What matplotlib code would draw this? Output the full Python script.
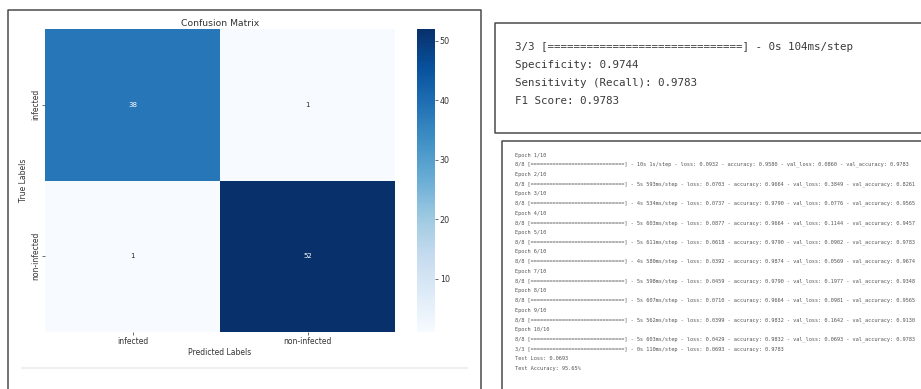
import numpy as np
import matplotlib
matplotlib.use("Agg")
import matplotlib.pyplot as plt
import seaborn as sns

W, H = 921, 389

# confusion matrix
class_names = ["infected", "non-infected"]
cm = np.array([[38, 1],
               [1, 52]])

# evaluation summary
eval_steps = "3/3"
eval_time = "0s 104ms/step"
specificity = 0.9744
sensitivity = 0.9783
f1 = 0.9783

# training log
epochs = 10
epoch_time = ["10s", "5s", "4s", "5s", "5s", "4s", "5s", "5s", "5s", "5s"]
step_time = ["1s", "593ms", "534ms", "603ms", "611ms", "580ms", "598ms", "607ms", "562ms", "603ms"]
loss = [0.0932, 0.0703, 0.0737, 0.0877, 0.0618, 0.0392, 0.0459, 0.0710, 0.0399, 0.0429]
accuracy = [0.9580, 0.9664, 0.9790, 0.9664, 0.9790, 0.9874, 0.9790, 0.9664, 0.9832, 0.9832]
val_loss = [0.0860, 0.3849, 0.0776, 0.1144, 0.0902, 0.0569, 0.1977, 0.0981, 0.1642, 0.0693]
val_accuracy = [0.9783, 0.8261, 0.9565, 0.9457, 0.9783, 0.9674, 0.9348, 0.9565, 0.9130, 0.9783]
test_time = "0s 110ms/step"
test_loss = 0.0693
test_acc_eval = 0.9783
test_accuracy = 95.65


def fx(x):
    return x / W


def fy(y):
    return 1 - y / H


def frame_line(fig, xs, ys, color="#4a4a4a", lw=1.1):
    fig.add_artist(plt.Line2D([fx(v) for v in xs], [fy(v) for v in ys],
                              transform=fig.transFigure, color=color, lw=lw))


fig = plt.figure(figsize=(W / 100, H / 100), dpi=100)

# ── heatmap panel ────────────────────────────────────────────────────────────
ax = fig.add_axes([fx(45), fy(332), fx(395) - fx(45), fy(29) - fy(332)])
cax = fig.add_axes([fx(417), fy(332), fx(435) - fx(417), fy(29) - fy(332)])
sns.heatmap(cm, annot=True, fmt="d", cmap="Blues", ax=ax, cbar_ax=cax,
            xticklabels=class_names, yticklabels=class_names,
            annot_kws={"fontsize": 5})
ax.set_title("Confusion Matrix", fontsize=6.7, color="#333333", pad=2.5)
ax.set_xlabel("Predicted Labels", fontsize=5.5, color="#333333", labelpad=1.5)
ax.set_ylabel("True Labels", fontsize=5.5, color="#333333", labelpad=2)
ax.tick_params(labelsize=5.5, length=2, width=0.5, pad=1.5, colors="#333333")
plt.setp(ax.get_yticklabels(), rotation=90, va="center")
cax.tick_params(labelsize=5.8, length=2, width=0.5, pad=1.5, colors="#333333")
cax.set_yticks([10, 20, 30, 40, 50])

frame_line(fig, [8, 8, 481, 481], [H, 10, 10, H])
frame_line(fig, [22, 467], [368, 368], color="#efefef", lw=1.5)

# ── evaluation box ───────────────────────────────────────────────────────────
frame_line(fig, [W, 495, 495, W], [23, 23, 133, 133])
bar = "=" * 30
summary = [
    f"{eval_steps} [{bar}] - {eval_time}",
    f"Specificity: {specificity:.4f}",
    f"Sensitivity (Recall): {sensitivity:.4f}",
    f"F1 Score: {f1:.4f}",
]
for i, line in enumerate(summary):
    fig.text(fx(515), fy(47 + i * 18), line, family="DejaVu Sans Mono",
             fontsize=7.8, color="#3a3a3a", va="center", ha="left")

# ── training log box ─────────────────────────────────────────────────────────
frame_line(fig, [W, 502, 502], [141, 141, H])
log = []
for e in range(epochs):
    log.append(f"Epoch {e + 1}/{epochs}")
    log.append(f"8/8 [{bar}] - {epoch_time[e]} {step_time[e]}/step - loss: {loss[e]:.4f}"
               f" - accuracy: {accuracy[e]:.4f} - val_loss: {val_loss[e]:.4f}"
               f" - val_accuracy: {val_accuracy[e]:.4f}")
log.append(f"3/3 [{bar}] - {test_time} - loss: {test_loss:.4f} - accuracy: {test_acc_eval:.4f}")
log.append(f"Test Loss: {test_loss:.4f}")
log.append(f"Test Accuracy: {test_accuracy:.2f}%")
for i, line in enumerate(log):
    fig.text(fx(515), fy(155 + i * 9.7), line, family="DejaVu Sans Mono",
             fontsize=3.78, color="#555555", va="center", ha="left")

fig.savefig("out.png", dpi=100)
